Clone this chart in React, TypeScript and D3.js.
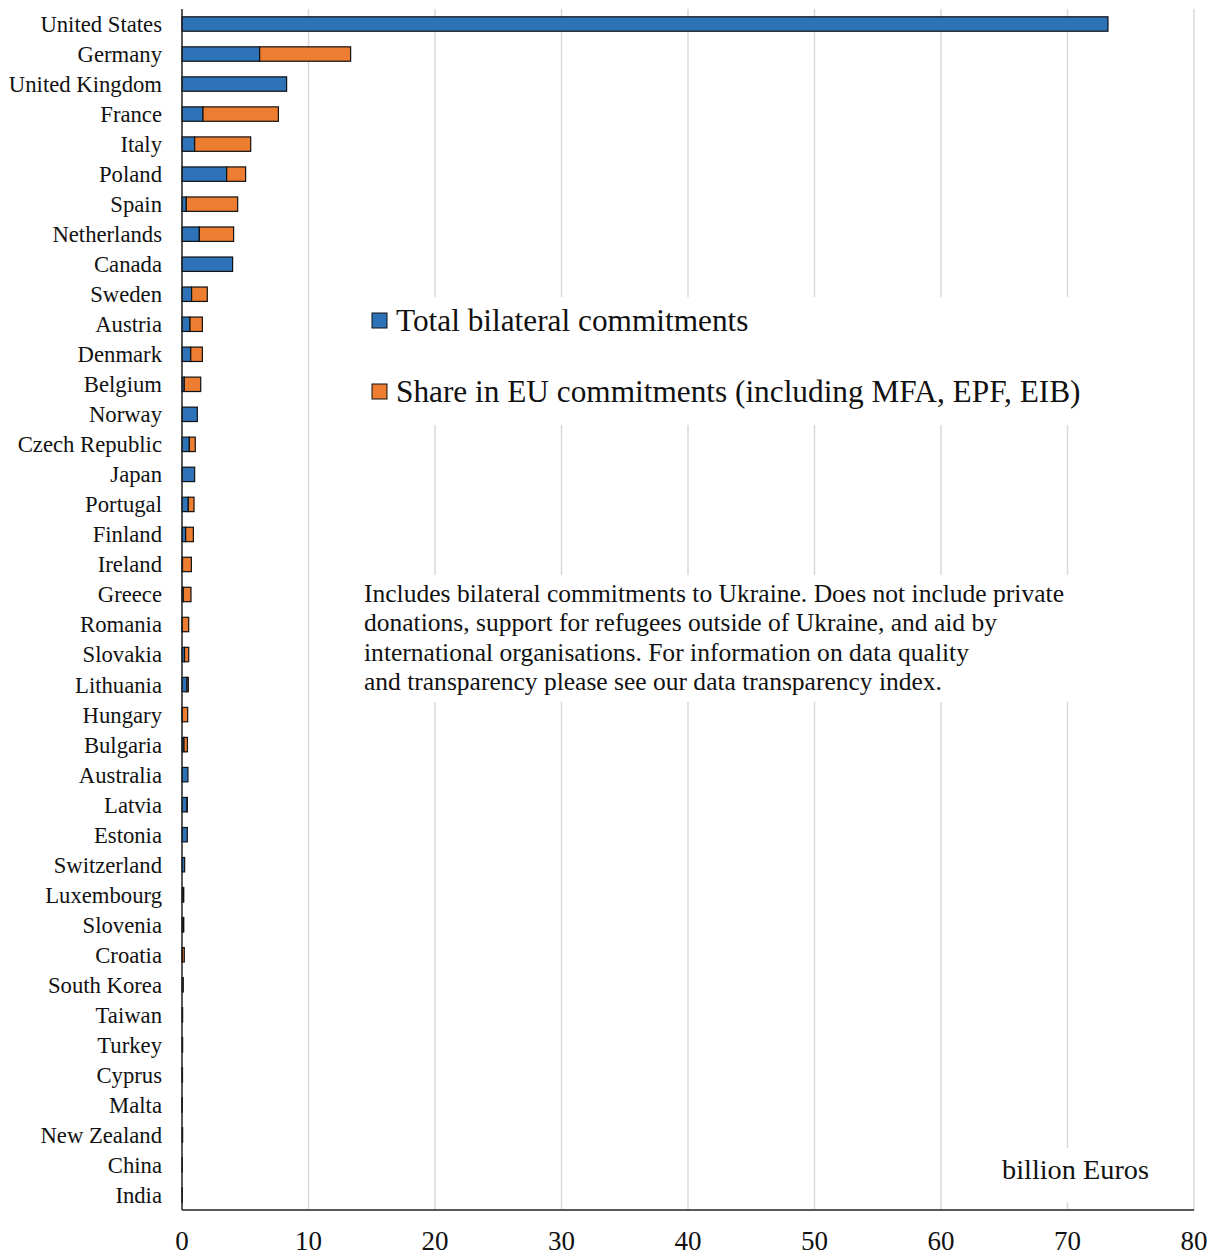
import React from "react";
import * as d3 from "d3";

const countries = [
  "United States", "Germany", "United Kingdom", "France", "Italy", "Poland", "Spain",
  "Netherlands", "Canada", "Sweden", "Austria", "Denmark", "Belgium", "Norway",
  "Czech Republic", "Japan", "Portugal", "Finland", "Ireland", "Greece", "Romania",
  "Slovakia", "Lithuania", "Hungary", "Bulgaria", "Australia", "Latvia", "Estonia",
  "Switzerland", "Luxembourg", "Slovenia", "Croatia", "South Korea", "Taiwan", "Turkey",
  "Cyprus", "Malta", "New Zealand", "China", "India",
];

const bilateral = [
  73.2, 6.14, 8.27, 1.66, 1.0, 3.53, 0.34,
  1.37, 4.0, 0.76, 0.63, 0.69, 0.18, 1.21,
  0.58, 1.0, 0.5, 0.29, 0.04, 0.1, 0.03,
  0.2, 0.4, 0.03, 0.16, 0.47, 0.4, 0.42,
  0.21, 0.1, 0.08, 0.03, 0.1, 0.05, 0.05,
  0.02, 0.01, 0.05, 0.03, 0.03,
];

const euShare = [
  0, 7.19, 0, 5.96, 4.43, 1.5, 4.06,
  2.71, 0, 1.24, 0.98, 0.92, 1.3, 0,
  0.47, 0, 0.45, 0.61, 0.7, 0.61, 0.5,
  0.33, 0.1, 0.42, 0.27, 0, 0.02, 0,
  0, 0.04, 0.06, 0.15, 0, 0, 0,
  0.02, 0.02, 0, 0, 0,
];

const xTicks = [0, 10, 20, 30, 40, 50, 60, 70, 80];

const legendLabels = [
  "Total bilateral commitments",
  "Share in EU commitments (including MFA, EPF, EIB)",
];

const noteLines = [
  "Includes bilateral commitments to Ukraine. Does not include private",
  "donations, support for refugees outside of Ukraine, and aid by",
  "international organisations. For information on data quality",
  "and transparency please see our data transparency index.",
];
const noteWidths = [700, 633, 605, 578];

const unitLabel = "billion Euros";

const W = 1217;
const H = 1257;
const BLUE = "#2E72B8";
const ORANGE = "#ED7D31";
const FONT = "'Liberation Serif', 'Times New Roman', serif";

export default function App() {
  const left = 182;
  const right = 1194;
  const top = 9;
  const bottom = 1210;

  const x = d3.scaleLinear().domain([0, 80]).range([left, right]);
  const y = d3
    .scaleBand<string>()
    .domain(countries)
    .range([top, bottom])
    .paddingInner(0.52)
    .paddingOuter(0.26);

  const rows = countries.map((c, i) => ({ c, b: bilateral[i], e: euShare[i] }));

  return (
    <svg
      width={W}
      height={H}
      style={{ position: "absolute", left: 0, top: 0, background: "#fff" }}
      fontFamily={FONT}
    >
      <rect x={0} y={0} width={W} height={H} fill="#fff" />
      {/* gridlines */}
      {xTicks.slice(1).map((t) => (
        <line
          key={t}
          x1={x(t)}
          x2={x(t)}
          y1={top}
          y2={bottom}
          stroke="#d9d9d9"
          strokeWidth={1.5}
        />
      ))}
      {/* legend background */}
      <rect x={360} y={297} width={732} height={128} fill="#fff" />
      {/* note background */}
      <rect x={356} y={575} width={714} height={127} fill="#fff" />
      {/* unit label background */}
      <rect x={990} y={1148} width={203} height={54} fill="#fff" />

      {/* bars */}
      {rows.map((r) => {
        const yy = y(r.c)!;
        const h = y.bandwidth();
        return (
          <g key={r.c}>
            {r.b > 0 && (
              <rect
                x={x(0)}
                y={yy}
                width={x(r.b) - x(0)}
                height={h}
                fill={BLUE}
                stroke="#111"
                strokeWidth={1.2}
              />
            )}
            {r.e > 0 && (
              <rect
                x={x(r.b)}
                y={yy}
                width={x(r.b + r.e) - x(r.b)}
                height={h}
                fill={ORANGE}
                stroke="#111"
                strokeWidth={1.2}
              />
            )}
            <text
              x={162}
              y={yy + h / 2}
              dy="0.35em"
              textAnchor="end"
              fontSize={22.7}
              fill="#111"
            >
              {r.c}
            </text>
          </g>
        );
      })}

      {/* axes */}
      <line x1={left} x2={left} y1={top} y2={bottom} stroke="#222" strokeWidth={1.5} />
      <line x1={left} x2={right} y1={bottom} y2={bottom} stroke="#222" strokeWidth={1.5} />
      {xTicks.map((t) => (
        <text
          key={t}
          x={x(t)}
          y={1250}
          textAnchor="middle"
          fontSize={27}
          fill="#111"
        >
          {t}
        </text>
      ))}

      {/* legend */}
      {legendLabels.map((l, i) => {
        const yy = 313 + i * 71;
        return (
          <g key={l}>
            <rect
              x={372}
              y={yy}
              width={15}
              height={15}
              fill={i === 0 ? BLUE : ORANGE}
              stroke="#111"
              strokeWidth={1}
            />
            <text x={396} y={yy + 18} fontSize={31.3} fill="#111">
              {l}
            </text>
          </g>
        );
      })}

      {/* note */}
      {noteLines.map((l, i) => (
        <text
          key={i}
          x={364}
          y={601.5 + i * 29.6}
          fontSize={24.5}
          fill="#111"
          textLength={noteWidths[i]}
          lengthAdjust="spacingAndGlyphs"
        >
          {l}
        </text>
      ))}

      {/* unit label */}
      <text x={1149} y={1179} textAnchor="end" fontSize={28.3} fill="#111">
        {unitLabel}
      </text>
    </svg>
  );
}
